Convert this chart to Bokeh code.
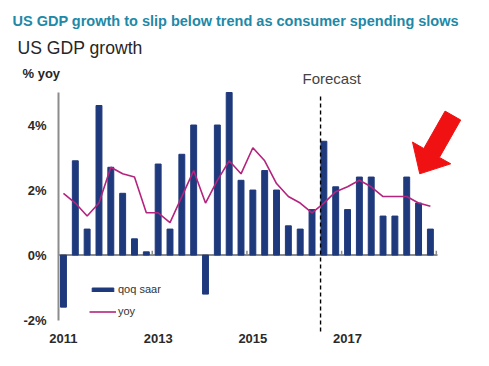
import math
from bokeh.plotting import figure
from bokeh.models import (ColumnDataSource, FixedTicker, Label, Legend, LegendItem)
from bokeh.embed import file_html
from bokeh.resources import INLINE

# ---- data ----
quarters = [f"{y}Q{q}" for y in range(2011, 2019) for q in range(1, 5)]
qoq_saar = [-1.6, 2.9, 0.8, 4.6, 2.7, 1.9, 0.5, 0.1,
            2.8, 0.8, 3.1, 4.0, -1.2, 4.0, 5.0, 2.3,
            2.0, 2.6, 2.0, 0.9, 0.8, 1.4, 3.5, 2.1,
            1.4, 2.4, 2.4, 1.2, 1.2, 2.4, 1.6, 0.8]
yoy = [1.9, 1.6, 1.2, 1.6, 2.7, 2.5, 2.4, 1.3,
       1.3, 1.0, 1.8, 2.6, 1.6, 2.3, 2.9, 2.5,
       3.3, 2.9, 2.2, 1.8, 1.6, 1.3, 1.6, 1.95,
       2.1, 2.3, 2.1, 1.8, 1.8, 1.8, 1.6, 1.5]
year_labels = ["2011", "2013", "2015", "2017"]
y_ticks = [-2, 0, 2, 4]
y_tick_labels = ["-2%", "0%", "2%", "4%"]
forecast_start = 21.72  # between 2016Q2 and 2016Q3 bars

BAR = "#1f3a7c"
LINE = "#b4237e"
GREY = "#8c8c8c"
RED = "#f01212"
FONT = "Liberation Sans"

# ---- geometry: the plot box inside a full-canvas frame ----
W, H = 489, 366
BOX_L, BOX_R, BOX_T = 58, 437, 92          # px of plot box (left, right, top)
X0, X1 = -0.42, 31.6                        # data x at box left / right
Y_TOP, Y_BOT = 5.0, -2.35                   # data y at box top / dashed-line bottom
PX_PER_Y = 32.52
sx = (BOX_R - BOX_L) / (X1 - X0)
sy = PX_PER_Y
xr = (X0 - BOX_L / sx, X0 + (W - BOX_L) / sx)
yr = (Y_TOP - (H - BOX_T) / sy, Y_TOP + BOX_T / sy)

p = figure(width=W, height=H, x_range=xr, y_range=yr, title=None,
           output_backend="svg", toolbar_location=None, min_border=0)
p.outline_line_color = None
p.xgrid.visible = False
p.ygrid.visible = False

ya = p.yaxis[0]
ya.fixed_location = X0
ya.ticker = FixedTicker(ticks=y_ticks)
ya.major_label_overrides = {t: l for t, l in zip(y_ticks, y_tick_labels)}
ya.bounds = (-2, Y_TOP)
ya.axis_line_color = GREY
ya.axis_line_width = 2
ya.major_tick_line_color = None
ya.minor_tick_line_color = None
ya.major_tick_out = 0
ya.major_tick_in = 0
ya.major_label_standoff = 12
ya.major_label_text_font = FONT
ya.major_label_text_font_style = "bold"
ya.major_label_text_font_size = "13px"
ya.major_label_text_color = "#2a2a2a"

x = list(range(len(quarters)))
year_pos = [x[quarters.index(y + "Q1")] for y in year_labels]
xa = p.xaxis[0]
xa.fixed_location = Y_BOT
xa.ticker = FixedTicker(ticks=year_pos)
xa.major_label_overrides = {t: l for t, l in zip(year_pos, year_labels)}
xa.axis_line_color = None
xa.major_tick_line_color = None
xa.minor_tick_line_color = None
xa.major_tick_out = 0
xa.major_tick_in = 0
xa.major_label_standoff = 2
xa.major_label_text_font = FONT
xa.major_label_text_font_style = "bold"
xa.major_label_text_font_size = "13px"
xa.major_label_text_color = "#2a2a2a"

src = ColumnDataSource(dict(x=x, qoq=qoq_saar, yoy=yoy, q=quarters))

# zero line with small ticks at year boundaries
p.segment(x0=[X0], x1=[X1], y0=[0], y1=[0], line_color=GREY, line_width=2)
bx = [v - 0.5 for v in year_pos[1:]] + [len(quarters) - 0.5]
p.segment(x0=bx, x1=bx, y0=[0] * len(bx), y1=[0.13] * len(bx), line_color=GREY, line_width=1.5)

bars = p.vbar(x="x", top="qoq", width=0.5, color=BAR, source=src)
line = p.line(x="x", y="yoy", line_color=LINE, line_width=1.6, source=src)

# forecast divider
p.segment(x0=[forecast_start], x1=[forecast_start], y0=[Y_BOT], y1=[4.92],
          line_color="black", line_width=1.4, line_dash="4 3")

legend = Legend(items=[LegendItem(label="qoq saar", renderers=[bars]),
                       LegendItem(label="yoy", renderers=[line])],
                location=(89, 49), orientation="vertical",
                glyph_width=27, glyph_height=5, label_height=5, spacing=10,
                label_standoff=2, padding=0, margin=0,
                border_line_color=None, background_fill_alpha=0,
                label_text_font=FONT, label_text_font_size="11px",
                label_text_color="#333333")
p.add_layout(legend, "center")

# red callout arrow: tip position (data) + shape in pixels
tip = (30.1, 2.5)
ang = math.atan2(58, 33)               # toward tail (screen, y up)
u = (math.cos(ang), math.sin(ang))
n = (u[1], -u[0])
shape = [(0, 0), (24, 22), (24, 9), (67, 9), (67, -9), (24, -9), (24, -22)]
ax_ = [tip[0] + (a * u[0] + c * n[0]) / sx for a, c in shape]
ay_ = [tip[1] + (a * u[1] + c * n[1]) / sy for a, c in shape]
p.patch(ax_, ay_, fill_color=RED, line_color=RED, line_width=1)

# header texts (screen px from the canvas bottom-left)
def lab(text, xs, ys, size, color, style="normal"):
    p.add_layout(Label(x=xs, y=H - ys, x_units="screen", y_units="screen", text=text,
                       text_font=FONT, text_font_size=size, text_color=color,
                       text_font_style=style, text_baseline="middle", text_align="left"))


lab("US GDP growth to slip below trend as consumer spending slows", 12, 20.5, "14.5px", "#2089a8", "bold")
lab("US GDP growth", 17, 47.5, "17.6px", "#262626")
lab("% yoy", 22, 73.2, "13px", "#262626", "bold")
lab("Forecast", 302, 78, "15px", "#444444")

open("out.html", "w").write(file_html(p, INLINE))
